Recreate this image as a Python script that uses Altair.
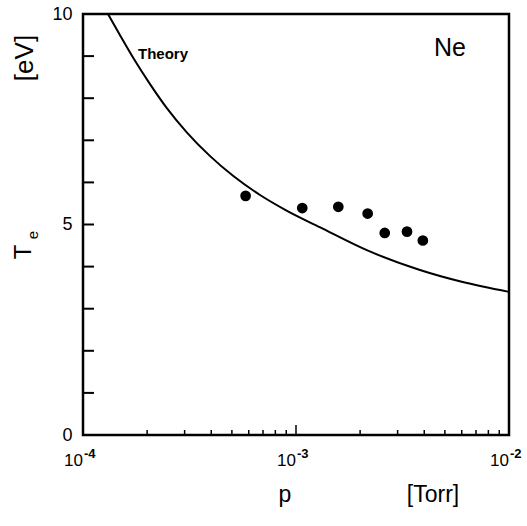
import altair as alt
import pandas as pd

# Theory curve
theory_p = [1.31e-4, 1.49e-4, 1.72e-4, 2.06e-4, 2.47e-4, 3.07e-4, 3.94e-4, 5.08e-4,
            6.78e-4, 9.03e-4, 1.30e-3, 2.15e-3, 3.82e-3, 6.0e-3, 1.0e-2]
theory_T = [10.0, 9.50, 8.96, 8.34, 7.77, 7.19, 6.63, 6.15,
            5.70, 5.33, 4.93, 4.39, 3.92, 3.64, 3.40]

# Measured points
meas_p = [5.8e-4, 1.07e-3, 1.58e-3, 2.17e-3, 2.61e-3, 3.32e-3, 3.94e-3]
meas_T = [5.68, 5.39, 5.42, 5.26, 4.80, 4.83, 4.62]

# Axis ticks / labels
x_major = [1e-4, 1e-3, 1e-2]
x_exp = ["-4", "-3", "-2"]
x_minor = [2e-4, 3e-4, 4e-4, 5e-4, 6e-4, 7e-4, 8e-4, 9e-4,
           2e-3, 3e-3, 4e-3, 5e-3, 6e-3, 7e-3, 8e-3, 9e-3]
y_minor = [1, 2, 3, 4, 5, 6, 7, 8, 9]
y_labels = [0, 5, 10]

W, H = 426, 421
FONT = "Liberation Sans"

xs = alt.Scale(type="log", domain=[1e-4, 1e-2], nice=False)
ys = alt.Scale(domain=[0, 10], nice=False)

theory_df = pd.DataFrame({"p": theory_p, "T": theory_T})
meas_df = pd.DataFrame({"p": meas_p, "T": meas_T})
xmaj_df = pd.DataFrame({"p": x_major, "e": x_exp})
xmin_df = pd.DataFrame({"p": x_minor})
xmid_df = pd.DataFrame({"p": [1e-3]})
ymin_df = pd.DataFrame({"T": y_minor})

line = alt.Chart(theory_df).mark_line(color="black", strokeWidth=2, interpolate="monotone").encode(
    x=alt.X("p:Q", scale=xs, axis=None),
    y=alt.Y("T:Q", scale=ys, axis=alt.Axis(values=y_labels, tickSize=0, domain=False, grid=False,
                                           labelFontSize=18, labelFont=FONT, labelColor="black",
                                           labelPadding=11, title=None)),
)

pts = alt.Chart(meas_df).mark_point(filled=True, color="black", size=115, opacity=1).encode(
    x=alt.X("p:Q", scale=xs, axis=None),
    y=alt.Y("T:Q", scale=ys),
)

xminor = alt.Chart(xmin_df).mark_rule(color="black", strokeWidth=1.5).encode(
    x=alt.X("p:Q", scale=xs, axis=None),
    y=alt.value(H), y2=alt.value(H - 5),
)
xmid = alt.Chart(xmid_df).mark_rule(color="black", strokeWidth=1.5).encode(
    x=alt.X("p:Q", scale=xs, axis=None),
    y=alt.value(H), y2=alt.value(H - 10),
)
yminor = alt.Chart(ymin_df).mark_rule(color="black", strokeWidth=2).encode(
    y=alt.Y("T:Q", scale=ys),
    x=alt.value(0), x2=alt.value(11),
)

xlab = alt.Chart(xmaj_df).mark_text(font=FONT, fontSize=17, align="right", baseline="middle",
                                    color="black", dx=0).encode(
    x=alt.X("p:Q", scale=xs, axis=None),
    y=alt.value(H + 26), text=alt.value("10"),
)
xexp = alt.Chart(xmaj_df).mark_text(font=FONT, fontSize=13, fontWeight="bold", align="left",
                                    baseline="middle", color="black", dx=1).encode(
    x=alt.X("p:Q", scale=xs, axis=None),
    y=alt.value(H + 19), text="e:N",
)

def label(txt, x, y, size, weight="normal", angle=0):
    return alt.Chart(pd.DataFrame({"t": [txt]})).mark_text(
        font=FONT, fontSize=size, fontWeight=weight, angle=angle,
        align="center", baseline="middle", color="black").encode(
        text="t:N", x=alt.value(x), y=alt.value(y))

ox, oy = 83, 14
texts = [
    label("Theory", 163 - ox, 54 - oy, 15, "bold"),
    label("Ne", 450 - ox, 48 - oy, 25),
    label("p", 285 - ox, 495 - oy, 23),
    label("[Torr]", 433 - ox, 495 - oy, 23),
    label("[eV]", 25 - ox, 58 - oy, 26, angle=270),
    label("T", 24 - ox, 252 - oy, 24, angle=270),
    label("e", 33 - ox, 235 - oy, 15, angle=270),
]

chart = alt.layer(line, pts, xminor, xmid, yminor, xlab, xexp, *texts).properties(
    width=W, height=H,
    autosize=alt.AutoSizeParams(type="none"),
    padding={"left": ox, "top": oy, "right": 527 - ox - W, "bottom": 526 - oy - H},
    background="white",
).configure_view(stroke="black", strokeWidth=2.5)

chart.save("out.html", embed_options={"renderer": "svg", "actions": False})
